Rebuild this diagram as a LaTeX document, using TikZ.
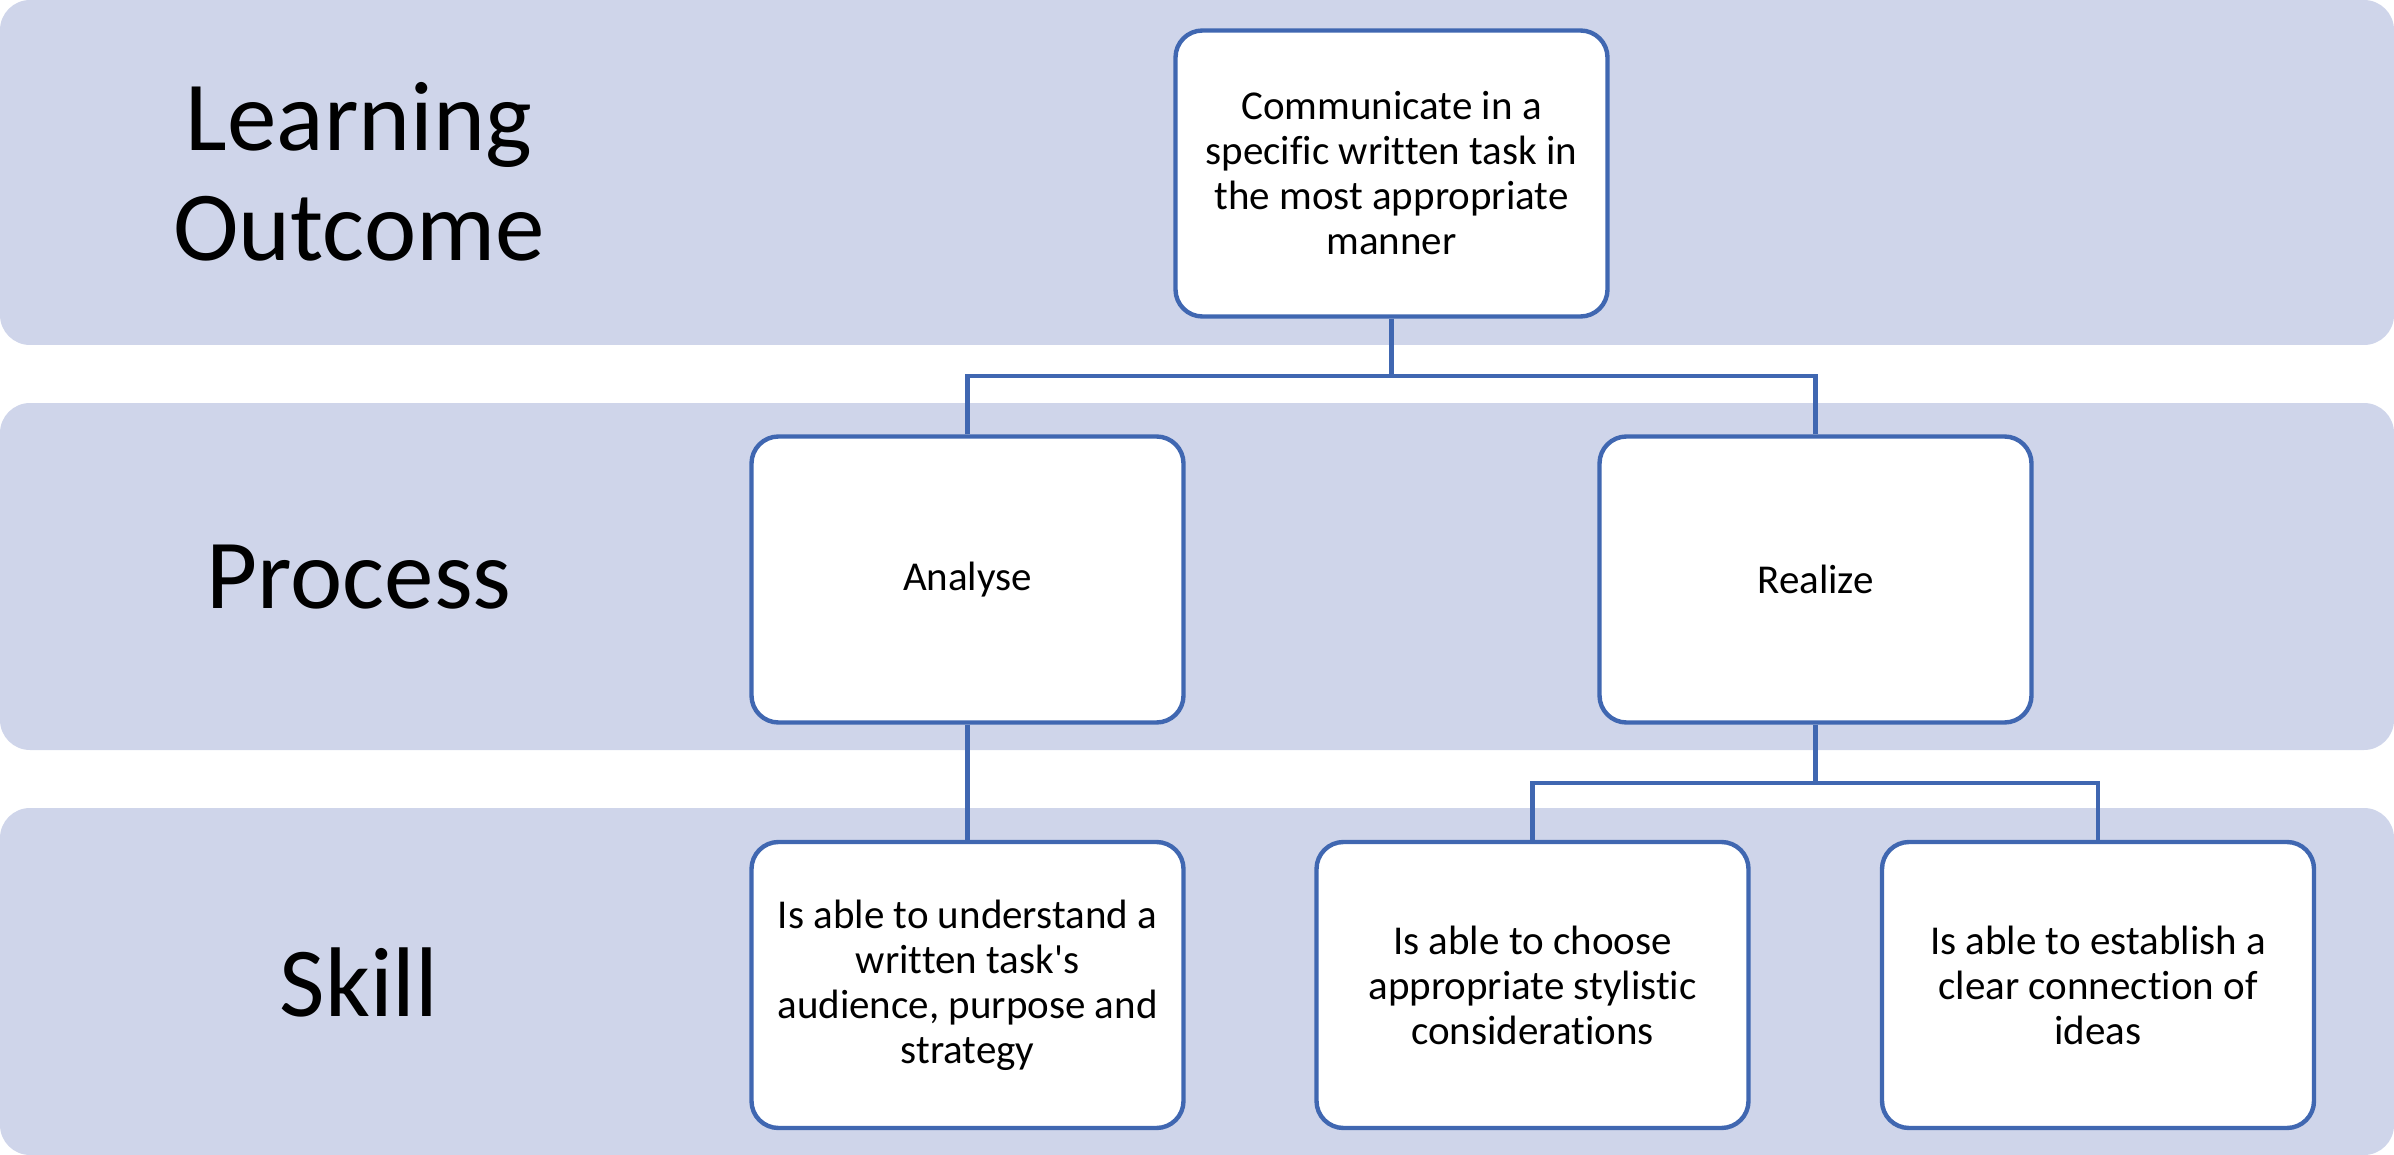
\documentclass[tikz,border=0pt]{standalone}
\usepackage{fontspec}
\setmainfont{Carlito}[Ligatures={CommonOff}]
\definecolor{bandcol}{HTML}{CFD5EA}
\definecolor{boxblue}{HTML}{4067B1}
\tikzset{
  band/.style={fill=bandcol, draw=none, rounded corners=15pt},
  bandlabel/.style={align=center, font=\fontsize{49.5}{55}\selectfont},
  tbox/.style={rectangle, draw=boxblue, line width=2.2pt, fill=white, rounded corners=13.5pt,
    minimum width=216pt, minimum height=143pt, inner sep=0pt, align=center,
    font=\fontsize{20.5}{22.5}\selectfont},
  conn/.style={draw=boxblue, line width=2.2pt}
}
\begin{document}
\begin{tikzpicture}[x=0.5pt,y=-0.5pt]
\useasboundingbox (0,0) rectangle (2394,1155);
% bands
\fill[band] (0,0) rectangle (2394,345);
\fill[band] (0,403) rectangle (2394,750);
\fill[band] (0,808) rectangle (2394,1155);
% band labels
\node[bandlabel] (lo) at (359,172) {Learning\\Outcome};
\node[bandlabel] (pr) at (359,577) {Process};
\node[bandlabel] (sk) at (359,982) {Skill};
% boxes
\node[tbox] (top) at (1391.5,173.5) {Communicate in a\\specific written task in\\the most appropriate\\manner};
\node[tbox] (analyse) at (967.5,579.5) {Analyse};
\node[tbox] (realize) at (1815.5,579.5) {Realize};
\node[tbox] (s1) at (967.5,985) {Is able to understand a\\written task\textquotesingle s\\audience, purpose and\\strategy};
\node[tbox] (s2) at (1532.5,985) {Is able to choose\\appropriate stylistic\\considerations};
\node[tbox] (s3) at (2098,985) {Is able to establish a\\clear connection of\\ideas};
% connectors
\coordinate (j1) at (1391.5,376);
\coordinate (j2) at (1815.5,783);
\draw[conn] (top.south) -- (j1);
\draw[conn] (analyse.north) |- (j1) -| (realize.north);
\draw[conn] (analyse.south) -- (s1.north);
\draw[conn] (realize.south) -- (j2);
\draw[conn] (s2.north) |- (j2) -| (s3.north);
\end{tikzpicture}
\end{document}
